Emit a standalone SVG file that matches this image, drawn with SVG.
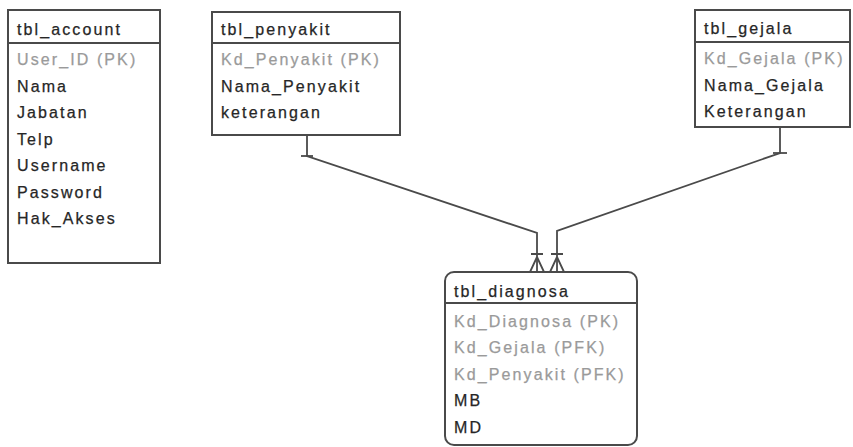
<svg xmlns="http://www.w3.org/2000/svg" width="853" height="447" viewBox="0 0 853 447">
  <style>
    .box { fill: #ffffff; stroke: #4a4a4a; stroke-width: 2; }
    .sep { stroke: #4a4a4a; stroke-width: 2; }
    text { font-family: "Liberation Sans", Arial, sans-serif; font-size: 16px; letter-spacing: 2.1px; fill: #262626; stroke: #262626; stroke-width: 0.25; }
    .key { fill: #9a9a9a; stroke: #9a9a9a; }
    .conn { fill: none; stroke: #4a4a4a; stroke-width: 1.8; }
  </style>
  <rect width="853" height="447" fill="#ffffff"/>

  <!-- tbl_account -->
  <g id="tbl_account">
    <rect class="box" x="8" y="10" width="152" height="253"/>
    <line class="sep" x1="8" y1="43" x2="160" y2="43"/>
    <text x="17" y="35">tbl_account</text>
    <text class="key" x="17" y="65">User_ID (PK)</text>
    <text x="17" y="92">Nama</text>
    <text x="17" y="118">Jabatan</text>
    <text x="17" y="145">Telp</text>
    <text x="17" y="171">Username</text>
    <text x="17" y="198">Password</text>
    <text x="17" y="224">Hak_Akses</text>
  </g>

  <!-- tbl_penyakit -->
  <g id="tbl_penyakit">
    <rect class="box" x="212" y="12" width="188" height="123"/>
    <line class="sep" x1="212" y1="43" x2="400" y2="43"/>
    <text x="221" y="35">tbl_penyakit</text>
    <text class="key" x="221" y="65">Kd_Penyakit (PK)</text>
    <text x="221" y="92">Nama_Penyakit</text>
    <text x="221" y="118">keterangan</text>
  </g>

  <!-- tbl_gejala -->
  <g id="tbl_gejala">
    <rect class="box" x="695" y="10" width="155" height="117"/>
    <line class="sep" x1="695" y1="42" x2="850" y2="42"/>
    <text x="704" y="34">tbl_gejala</text>
    <text class="key" x="704" y="64">Kd_Gejala (PK)</text>
    <text x="704" y="91">Nama_Gejala</text>
    <text x="704" y="117">Keterangan</text>
  </g>

  <!-- tbl_diagnosa -->
  <g id="tbl_diagnosa">
    <rect class="box" x="445" y="272" width="192" height="173" rx="9" ry="9"/>
    <line class="sep" x1="445" y1="303" x2="637" y2="303"/>
    <text x="454" y="297">tbl_diagnosa</text>
    <text class="key" x="454" y="327">Kd_Diagnosa (PK)</text>
    <text class="key" x="454" y="353">Kd_Gejala (PFK)</text>
    <text class="key" x="454" y="380">Kd_Penyakit (PFK)</text>
    <text x="454" y="406">MB</text>
    <text x="454" y="433">MD</text>
  </g>

  <!-- relationships: one (bar) to many (crow's foot) -->
  <g id="connectors">
    <path class="conn" d="M307,135 V156 L537,233 V272"/>
    <path class="conn" d="M301,156 H313"/>
    <path class="conn" d="M531,254 H543 M537,257 L530,272 M537,257 L544,272"/>
    <path class="conn" d="M780,127 V153 L557,231 V272"/>
    <path class="conn" d="M773,153 H787"/>
    <path class="conn" d="M551,254 H563 M557,257 L550,272 M557,257 L564,272"/>
  </g>
</svg>
